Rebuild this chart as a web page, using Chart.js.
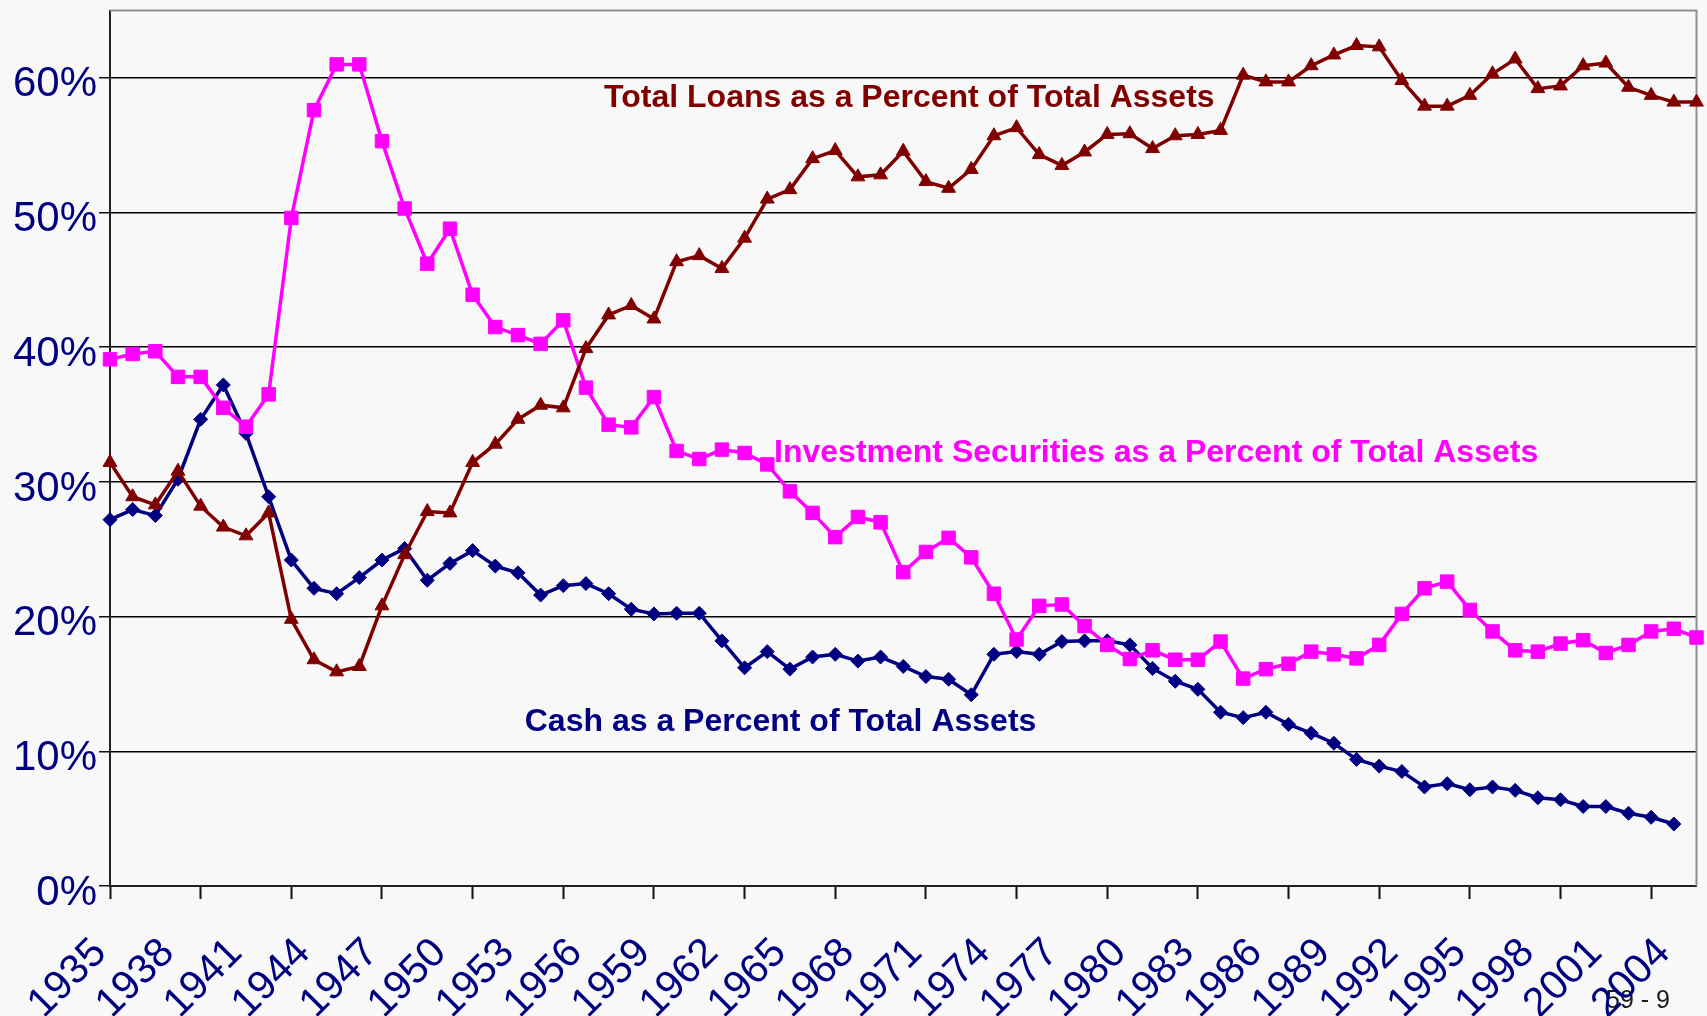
<!DOCTYPE html>
<html>
<head>
<meta charset="utf-8">
<title>Cash, Loans and Investment Securities as a Percent of Total Assets</title>
<script src="https://cdn.jsdelivr.net/npm/chart.js@4.4.1/dist/chart.umd.min.js"></script>
<style>
    html, body { margin: 0; padding: 0; background: #f8f8f8; }
    #wrap { position: relative; width: 1707px; height: 1016px; }
</style>
</head>
<body>
<div id="wrap"><canvas id="chart"></canvas></div>
<script>
    'use strict';

    // categories (one point per year)
    var years = [
        1935, 1936, 1937, 1938, 1939, 1940, 1941, 1942, 1943, 1944,
        1945, 1946, 1947, 1948, 1949, 1950, 1951, 1952, 1953, 1954,
        1955, 1956, 1957, 1958, 1959, 1960, 1961, 1962, 1963, 1964,
        1965, 1966, 1967, 1968, 1969, 1970, 1971, 1972, 1973, 1974,
        1975, 1976, 1977, 1978, 1979, 1980, 1981, 1982, 1983, 1984,
        1985, 1986, 1987, 1988, 1989, 1990, 1991, 1992, 1993, 1994,
        1995, 1996, 1997, 1998, 1999, 2000, 2001, 2002, 2003, 2004, 2005
    ];

    // percent of total assets
    var loansPct = [
        31.45, 28.9, 28.3, 30.8, 28.2, 26.65, 26.0, 27.7, 19.8, 16.8,
        15.9, 16.3, 20.8, 24.6, 27.8, 27.7, 31.45, 32.8, 34.65, 35.7,
        35.5, 39.9, 42.4, 43.1, 42.1, 46.35, 46.8, 45.85, 48.1, 51.0,
        51.7, 54.0, 54.6, 52.65, 52.8, 54.55, 52.3, 51.8, 53.2, 55.7,
        56.3, 54.3, 53.5, 54.5, 55.8, 55.85, 54.75, 55.7, 55.8, 56.1,
        60.2, 59.7, 59.7, 60.9, 61.7, 62.4, 62.3, 59.8, 57.9, 57.9,
        58.7, 60.3, 61.4, 59.2, 59.4, 60.9, 61.1, 59.3, 58.7, 58.2, 58.2
    ];

    var securitiesPct = [
        39.1, 39.5, 39.7, 37.8, 37.8, 35.5, 34.1, 36.5, 49.6, 57.6,
        61.0, 61.0, 55.3, 50.3, 46.2, 48.8, 43.9, 41.5, 40.9, 40.25,
        42.0, 37.0, 34.25, 34.05, 36.3, 32.3, 31.7, 32.4, 32.15, 31.3,
        29.3, 27.7, 25.9, 27.4, 27.0, 23.3, 24.8, 25.85, 24.4, 21.7,
        18.3, 20.8, 20.9, 19.3, 17.9, 16.85, 17.5, 16.8, 16.8, 18.15,
        15.4, 16.1, 16.5, 17.4, 17.2, 16.9, 17.9, 20.2, 22.1, 22.6,
        20.5, 18.9, 17.5, 17.4, 18.0, 18.25, 17.3, 17.9, 18.9, 19.1, 18.45
    ];

    var cashPct = [
        27.2, 27.95, 27.5, 30.2, 34.65, 37.2, 33.6, 28.9, 24.2, 22.1,
        21.7, 22.9, 24.2, 25.05, 22.7, 23.95, 24.9, 23.75, 23.25, 21.6,
        22.3, 22.45, 21.7, 20.55, 20.2, 20.25, 20.25, 18.2, 16.2, 17.4,
        16.1, 17.0, 17.2, 16.7, 17.0, 16.3, 15.55, 15.35, 14.2, 17.2,
        17.4, 17.2, 18.15, 18.2, 18.2, 17.9, 16.15, 15.2, 14.6, 12.9,
        12.5, 12.9, 12.0, 11.35, 10.6, 9.4, 8.9, 8.5, 7.35, 7.6,
        7.15, 7.35, 7.1, 6.55, 6.4, 5.9, 5.9, 5.4, 5.1, 4.6, null
    ];

    // value axis
    var yMin = 0;
    var yMax = 65;
    var yStep = 10;
    var yLastTick = 60;

    // label every 3rd year, tick mark every 4th year
    var labelEvery = 3;
    var tickEvery = 4;

    // in-plot series captions, anchored at (year, percent) of the text's left baseline
    var noteTexts = [
        'Total Loans as a Percent of Total Assets',
        'Investment Securities as a Percent of Total Assets',
        'Cash as a Percent of Total Assets'
    ];
    var noteColors = ['#800000', '#ff00ff', '#000080'];
    var noteYears = [1956.8, 1964.3, 1953.3];
    var notePcts = [57.8, 31.5, 11.5];

    var footerText = '59 - 9';

    var FONT = '"Liberation Sans", Arial, sans-serif';

    var overlay = {
        id: 'overlay',
        beforeDraw: function(chart) {
            var ctx = chart.ctx;
            ctx.save();
            ctx.font = '25px ' + FONT;
            ctx.fillStyle = '#1a1a1a';
            ctx.textAlign = 'left';
            ctx.textBaseline = 'alphabetic';
            ctx.fillText(footerText, 1606, 1008);
            ctx.restore();
        },
        beforeDatasetsDraw: function(chart) {
            // grey frame on the top and right of the plot
            var ctx = chart.ctx, a = chart.chartArea;
            ctx.save();
            ctx.strokeStyle = '#8f8f8f';
            ctx.lineWidth = 2;
            ctx.beginPath();
            ctx.moveTo(a.left, a.top);
            ctx.lineTo(a.right, a.top);
            ctx.lineTo(a.right, a.bottom);
            ctx.stroke();
            ctx.restore();
        },
        afterDatasetsDraw: function(chart) {
            var ctx = chart.ctx;
            var xs = chart.scales.x, ys = chart.scales.y;
            ctx.save();
            ctx.font = 'bold 32px ' + FONT;
            ctx.textAlign = 'left';
            ctx.textBaseline = 'alphabetic';
            for (var i = 0; i < noteTexts.length; i++) {
                ctx.fillStyle = noteColors[i];
                ctx.fillText(noteTexts[i],
                    xs.getPixelForValue(noteYears[i] - years[0]),
                    ys.getPixelForValue(notePcts[i]));
            }
            ctx.restore();
        }
    };

    function series(label, data, color, style, radius) {
        return {
            label: label,
            data: data,
            borderColor: color,
            backgroundColor: color,
            borderWidth: 3.5,
            pointStyle: style,
            pointRadius: radius,
            pointBorderWidth: 1,
            pointBackgroundColor: color,
            pointBorderColor: color,
            tension: 0,
            spanGaps: false,
            clip: false
        };
    }

    new Chart(document.getElementById('chart'), {
        type: 'line',
        data: {
            labels: years,
            datasets: [
                series('Total Loans', loansPct, '#800000', 'triangle', 8),
                series('Investment Securities', securitiesPct, '#ff00ff', 'rect', 9.5),
                series('Cash', cashPct, '#000080', 'rectRot', 7)
            ]
        },
        options: {
            responsive: true,
            maintainAspectRatio: false,
            animation: false,
            layout: { padding: { left: 0, right: 7, top: 7, bottom: 0 } },
            plugins: {
                legend: { display: false },
                tooltip: { enabled: false }
            },
            scales: {
                x: {
                    type: 'category',
                    offset: false,
                    afterFit: function(scale) {
                        scale.height = 130;
                        scale.paddingLeft = 0;
                        scale.paddingRight = 0;
                    },
                    border: { display: true, color: '#222', width: 2 },
                    grid: {
                        drawOnChartArea: false,
                        drawTicks: true,
                        tickLength: 13,
                        tickWidth: 2,
                        tickColor: function(ctx) {
                            return ctx.index % tickEvery === 0 ? '#111' : 'rgba(0,0,0,0)';
                        }
                    },
                    ticks: {
                        autoSkip: false,
                        minRotation: 45,
                        maxRotation: 45,
                        padding: 30,
                        labelOffset: -10,
                        color: '#000080',
                        font: { family: FONT, size: 41 },
                        callback: function(val, i) {
                            return i % labelEvery === 0 ? String(years[i]) : '';
                        }
                    }
                },
                y: {
                    min: yMin,
                    max: yMax,
                    afterFit: function(scale) {
                        scale.width = 110;
                        scale.paddingTop = 0;
                        scale.paddingBottom = 0;
                    },
                    afterBuildTicks: function(scale) {
                        scale.ticks = scale.ticks.filter(function(t) { return t.value <= yLastTick; });
                    },
                    border: { display: true, color: '#222', width: 2 },
                    grid: {
                        color: '#000',
                        lineWidth: 1.5,
                        tickLength: 11,
                        tickColor: '#111',
                        tickWidth: 1.5
                    },
                    ticks: {
                        stepSize: yStep,
                        padding: 2,
                        labelOffset: 7,
                        color: '#000080',
                        font: { family: FONT, size: 42 },
                        callback: function(v) { return v + '%'; }
                    }
                }
            }
        },
        plugins: [overlay]
    });
</script>
</body>
</html>
